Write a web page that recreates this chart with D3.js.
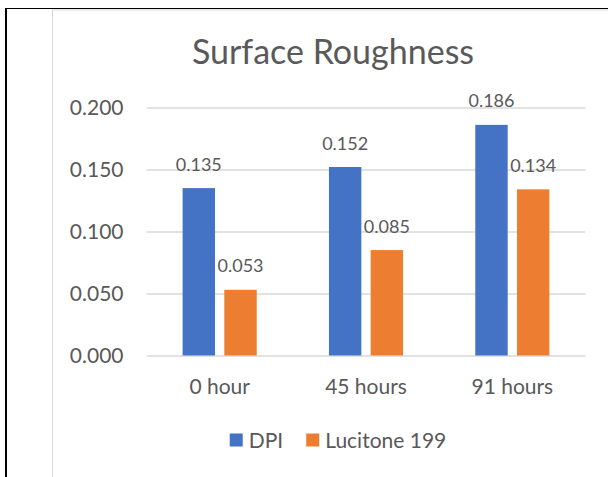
<!DOCTYPE html>
<html>
<head>
<meta charset="utf-8">
<script src="https://cdn.jsdelivr.net/npm/d3@7"></script>
<style>
  body { margin: 0; background: #fff; }
  svg { display: block; font-family: Lato, "Open Sans", sans-serif; }
</style>
</head>
<body>
<svg id="chart" width="608" height="477"></svg>
<script>
// chart data
var categories = ['0 hour', '45 hours', '91 hours']
var seriesNames = ['DPI', 'Lucitone 199']
var dpiValues = [0.135, 0.152, 0.186]
var luciValues = [0.053, 0.085, 0.134]
var yTicks = [0, 0.05, 0.1, 0.15, 0.2]
var colors = ['#4472c4', '#ed7d31']

var svg = d3.select('#chart')
var textColor = '#595959'
var gridColor = '#d9d9d9'

var table = categories.map(function (c, i) {
    return { cat: c, values: [dpiValues[i], luciValues[i]] }
})

// outer frame lines
svg.append('line').attr('x1', 6).attr('x2', 6).attr('y1', 8).attr('y2', 477)
    .attr('stroke', '#000').attr('stroke-width', 2)
svg.append('line').attr('x1', 5).attr('x2', 608).attr('y1', 8.5).attr('y2', 8.5)
    .attr('stroke', '#000').attr('stroke-width', 1)
// chart area border
svg.append('line').attr('x1', 52.5).attr('x2', 52.5).attr('y1', 9.5).attr('y2', 477)
    .attr('stroke', gridColor).attr('stroke-width', 1)
svg.append('line').attr('x1', 52.5).attr('x2', 608).attr('y1', 10).attr('y2', 10)
    .attr('stroke', gridColor).attr('stroke-width', 1)

var plot = { left: 146.5, right: 585.5, top: 107.5, bottom: 355.5 }

var x0 = d3.scaleBand()
    .domain(categories)
    .range([plot.left, plot.right])
    .padding(0)
var x1 = d3.scaleBand()
    .domain(seriesNames)
    .range([0, x0.bandwidth()])
    .paddingInner(0.223)
    .paddingOuter(0.866)
var y = d3.scaleLinear()
    .domain([0, 0.2])
    .range([plot.bottom, plot.top])

// gridlines
var grid = svg.append('g')
    .attr('transform', 'translate(' + plot.left + ',0)')
    .call(d3.axisLeft(y).tickValues(yTicks).tickSize(-(plot.right - plot.left)).tickFormat(''))
grid.select('.domain').remove()
grid.selectAll('line').attr('stroke', gridColor).attr('stroke-width', 1.5)

// y axis labels
var yAxis = svg.append('g')
    .attr('transform', 'translate(' + plot.left + ',0)')
    .call(d3.axisLeft(y).tickValues(yTicks).tickSize(0).tickPadding(23).tickFormat(d3.format('.3f')))
yAxis.select('.domain').remove()
yAxis.selectAll('text')
    .attr('fill', textColor)
    .attr('font-size', 21)
    .attr('font-family', 'Lato, sans-serif')

// bars
var groups = svg.append('g').selectAll('g').data(table).enter().append('g')
    .attr('transform', function (d) { return 'translate(' + x0(d.cat) + ',0)' })

groups.selectAll('rect')
    .data(function (d) { return d.values.map(function (v, i) { return { name: seriesNames[i], v: v, i: i } }) })
    .enter()
    .append('rect')
    .attr('x', function (d) { return x1(d.name) })
    .attr('width', x1.bandwidth())
    .attr('y', function (d) { return y(d.v) })
    .attr('height', function (d) { return y(0) - y(d.v) })
    .attr('fill', function (d) { return colors[d.i] })

groups.selectAll('text')
    .data(function (d) { return d.values.map(function (v, i) { return { name: seriesNames[i], v: v } }) })
    .enter()
    .append('text')
    .attr('x', function (d) { return x1(d.name) + x1.bandwidth() / 2 })
    .attr('y', function (d) { return y(d.v) - 17.5 })
    .attr('text-anchor', 'middle')
    .attr('font-size', 18)
    .attr('fill', textColor)
    .text(function (d) { return d3.format('.3f')(d.v) })

// category labels
svg.append('g').selectAll('text').data(categories).enter().append('text')
    .attr('x', function (d) { return x0(d) + x0.bandwidth() / 2 })
    .attr('y', 394)
    .attr('text-anchor', 'middle')
    .attr('font-size', 21)
    .attr('fill', textColor)
    .text(function (d) { return d })

// title
svg.append('text')
    .attr('x', 333)
    .attr('y', 63.5)
    .attr('text-anchor', 'middle')
    .attr('font-size', 34)
    .attr('fill', textColor)
    .text('Surface Roughness')

// legend
var legend = svg.append('g')
var items = legend.selectAll('g').data(seriesNames).enter().append('g')
items.append('rect')
    .attr('width', 13).attr('height', 13)
    .attr('y', 433.5)
    .attr('fill', function (d, i) { return colors[i] })
items.append('text')
    .attr('x', 19)
    .attr('y', 447.5)
    .attr('font-size', 21)
    .attr('fill', textColor)
    .text(function (d) { return d })
var offset = 0
items.each(function () {
    var g = d3.select(this)
    g.attr('transform', 'translate(' + offset + ',0)')
    offset += 19 + g.select('text').node().getComputedTextLength() + 23
})
var legendWidth = offset - 23
legend.attr('transform', 'translate(' + (338 - legendWidth / 2) + ',0)')
</script>
</body>
</html>
